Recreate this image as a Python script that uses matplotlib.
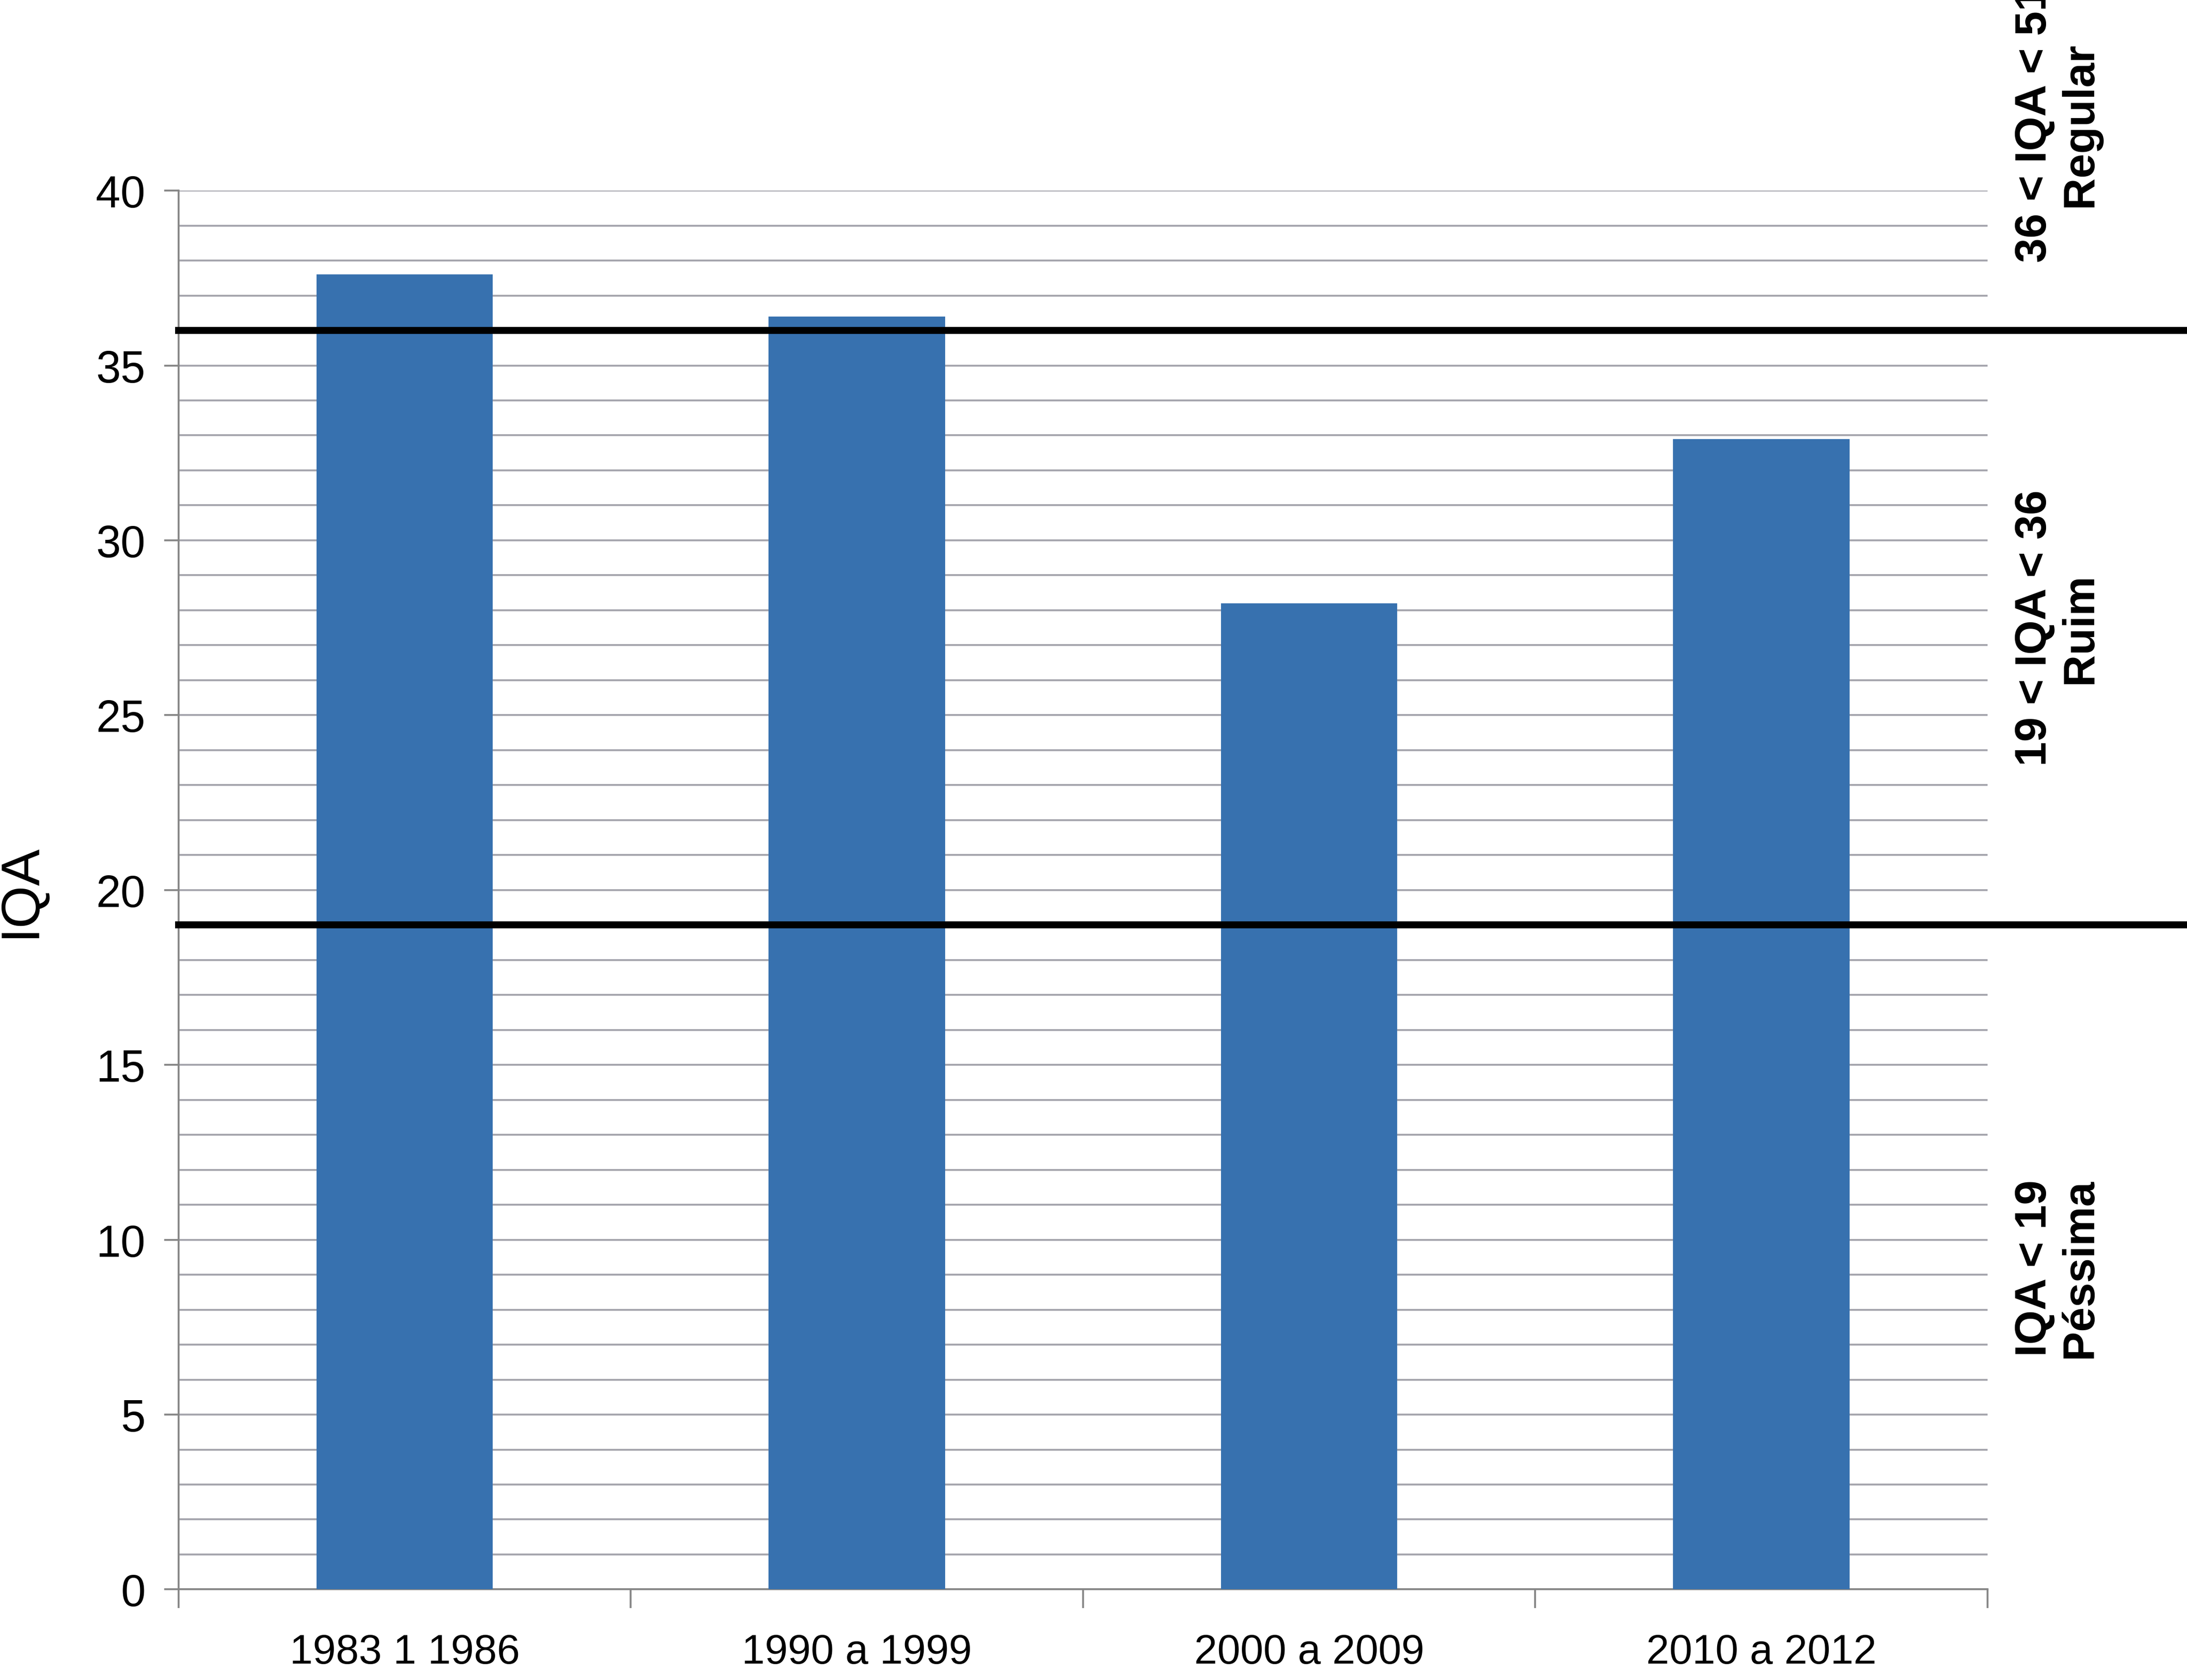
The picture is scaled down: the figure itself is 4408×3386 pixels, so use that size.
import matplotlib.pyplot as plt
from matplotlib.ticker import MultipleLocator

periods = ["1983 1 1986", "1990 a 1999", "2000 a 2009", "2010 a 2012"]
iqa = [37.6, 36.4, 28.2, 32.9]
limits = [36, 19]
class_labels = ["36 < IQA < 51\nRegular", "19 < IQA < 36\nRuim", "IQA < 19\nPéssima"]
class_y = [41.9, 27.5, 9.2]

plt.rcParams["font.family"] = ["Liberation Sans", "DejaVu Sans"]

fig = plt.figure(figsize=(4408 / 300, 3387 / 300), dpi=300)
ax = fig.add_axes([0.0816, 0.0539, 0.8272, 0.8324])

x = range(len(periods))
ax.bar(x, iqa, width=0.39, color="#3771af", zorder=3)

ax.set_xlim(-0.5, len(periods) - 0.5)
ax.set_ylim(0, 40)

# light grey gridline every unit, labels every 5
ax.yaxis.set_major_locator(MultipleLocator(5))
ax.yaxis.set_minor_locator(MultipleLocator(1))
ax.grid(axis="y", which="both", color="#a4a4ac", linewidth=0.9, zorder=1)
ax.set_axisbelow(True)

ax.set_xticks([i - 0.5 for i in range(len(periods) + 1)], minor=False)
ax.set_xticklabels([])
ax.set_xticks(list(x), minor=True)
ax.set_xticklabels(periods, minor=True, fontsize=20)
ax.tick_params(axis="x", which="major", length=9, width=0.9, color="#868686", direction="out")
ax.tick_params(axis="x", which="minor", length=0, pad=21)
ax.tick_params(axis="y", which="major", length=7, width=0.9, color="#868686", direction="out",
               labelsize=21.5, pad=9)
ax.tick_params(axis="y", which="minor", length=0)

for side in ["top", "right"]:
    ax.spines[side].set_visible(False)
for side in ["left", "bottom"]:
    ax.spines[side].set_color("#868686")
    ax.spines[side].set_linewidth(0.9)

ax.set_ylabel("IQA", fontsize=26.5, labelpad=24)

# class limits run out to the right edge of the figure
for v in limits:
    ax.axhline(v, xmin=0, xmax=1.12, color="black", linewidth=3.4, clip_on=False, zorder=4)

for y, txt in zip(class_y, class_labels):
    ax.text(1.0386, y, txt, transform=ax.get_yaxis_transform(), rotation=90,
            ha="center", va="center", multialignment="center",
            fontsize=21.4, fontweight="bold", linespacing=1.12, clip_on=False)

fig.savefig("out.png", dpi=300)
